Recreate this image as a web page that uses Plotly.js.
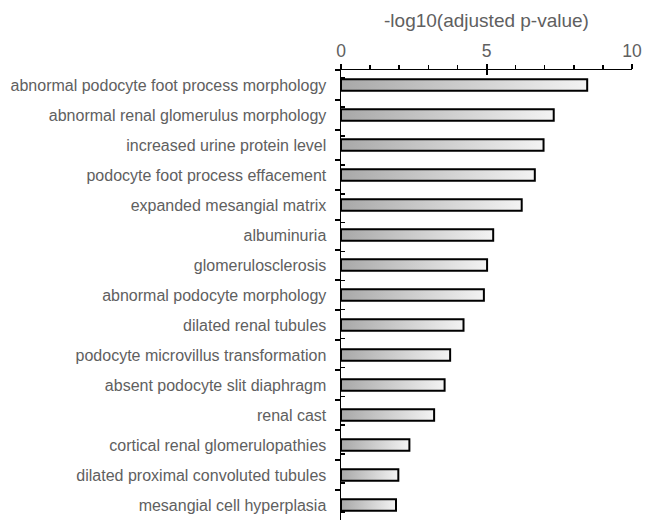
<!DOCTYPE html>
<html>
<head>
<meta charset="utf-8">
<script src="https://cdn.plot.ly/plotly-3.0.1.min.js"></script>
<style>
html,body{margin:0;padding:0;background:#fff;}
#chart{width:653px;height:520px;}
</style>
</head>
<body>
<div id="chart"></div>
<script>
const categories = [
  "abnormal podocyte foot process morphology",
  "abnormal renal glomerulus morphology",
  "increased urine protein level",
  "podocyte foot process effacement",
  "expanded mesangial matrix",
  "albuminuria",
  "glomerulosclerosis",
  "abnormal podocyte morphology",
  "dilated renal tubules",
  "podocyte microvillus transformation",
  "absent podocyte slit diaphragm",
  "renal cast",
  "cortical renal glomerulopathies",
  "dilated proximal convoluted tubules",
  "mesangial cell hyperplasia"
];
const values = [8.46, 7.31, 6.96, 6.66, 6.21, 5.23, 5.02, 4.91, 4.21, 3.75, 3.56, 3.20, 2.35, 1.97, 1.89];
const xTickVals = [0, 5, 10];
const xTickText = ["0", "5", "10"];
const axisTitle = "-log10(adjusted p-value)";

const FONT = "Liberation Sans, Arial, Helvetica, sans-serif";
const TXT = "#606060";

const traces = [
  {
    type: "bar", orientation: "h", x: values, y: categories,
    marker: {color: "#cccccc", line: {color: "#000", width: 2}},
    hoverinfo: "x+y"
  },
  {
    type: "scatter", mode: "none", x: values, y: categories,
    xaxis: "x2", yaxis: "y2", hoverinfo: "skip", showlegend: false
  }
];

const layout = {
  width: 653, height: 520,
  margin: {l: 341, r: 21, t: 70, b: 0, pad: 0},
  paper_bgcolor: "#fff", plot_bgcolor: "#fff",
  showlegend: false,
  bargap: 0.62,
  font: {family: FONT, color: TXT},
  xaxis: {
    side: "top", range: [0, 10], tickmode: "array", tickvals: xTickVals, ticktext: xTickText,
    ticks: "outside", ticklen: 5, tickwidth: 2, tickcolor: "#000",
    showline: true, linecolor: "#000", linewidth: 1.5,
    showgrid: false, zeroline: false,
    tickfont: {family: FONT, size: 17.5, color: TXT},
    ticklabelstandoff: 0,
    minor: {tick0: 0, dtick: 1, ticks: "outside", ticklen: 4, tickwidth: 1.5, tickcolor: "#000", showgrid: false},
    title: {text: axisTitle, font: {family: FONT, size: 19, color: TXT}, standoff: 8}
  },
  xaxis2: {
    overlaying: "x", side: "top", range: [0, 10], tickmode: "array", tickvals: xTickVals,
    ticks: "inside", ticklen: 5, tickwidth: 2, tickcolor: "#000",
    showticklabels: false, showgrid: false, zeroline: false, showline: false
  },
  yaxis: {
    type: "category", autorange: "reversed", tickson: "boundaries",
    ticks: "outside", ticklen: 5, tickwidth: 1.5, tickcolor: "#000",
    showline: true, linecolor: "#000", linewidth: 1.5,
    showgrid: false, zeroline: false,
    tickfont: {family: FONT, size: 16, color: TXT},
    ticklabelstandoff: 10
  },
  yaxis2: {
    type: "category", overlaying: "y", side: "left", autorange: "reversed", tickson: "boundaries",
    tickmode: "array", tickvals: categories, ticktext: categories.map(() => ""),
    ticks: "inside", ticklen: 4, tickwidth: 1.5, tickcolor: "#000",
    showticklabels: true, tickfont: {size: 16, color: "rgba(0,0,0,0)"},
    showgrid: false, zeroline: false, showline: false
  }
};

function applyGradient(gd) {
  const svg = gd.querySelector("svg.main-svg");
  if (!svg) return;
  let defs = svg.querySelector("defs");
  if (!defs) {
    defs = document.createElementNS("http://www.w3.org/2000/svg", "defs");
    svg.insertBefore(defs, svg.firstChild);
  }
  if (!svg.querySelector("#barGrad")) {
    const ns = "http://www.w3.org/2000/svg";
    const g = document.createElementNS(ns, "linearGradient");
    g.setAttribute("id", "barGrad");
    g.setAttribute("x1", "0"); g.setAttribute("x2", "1");
    g.setAttribute("y1", "0"); g.setAttribute("y2", "0");
    [["0", "#a8a8a8"], ["1", "#f3f3f3"]].forEach(([o, c]) => {
      const s = document.createElementNS(ns, "stop");
      s.setAttribute("offset", o); s.setAttribute("stop-color", c);
      g.appendChild(s);
    });
    defs.appendChild(g);
  }
  gd.querySelectorAll(".barlayer .trace.bars path").forEach(p => {
    p.style.fill = "url(#barGrad)";
    p.style.fillOpacity = "1";
  });
}

const gd = document.getElementById("chart");
Plotly.newPlot(gd, traces, layout, {staticPlot: true, displayModeBar: false}).then(() => {
  applyGradient(gd);
  gd.on("plotly_afterplot", () => applyGradient(gd));
});
</script>
</body>
</html>
